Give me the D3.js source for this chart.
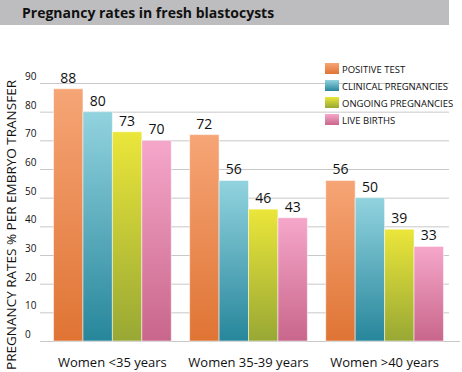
<!DOCTYPE html>
<head>
<meta charset="utf-8">
<script src="https://d3js.org/d3.v7.min.js"></script>
<style>
  html, body { margin: 0; padding: 0; background: #fff; }
  svg { display: block; }
  text { font-family: "Open Sans", sans-serif; fill: #111; }
</style>
</head>
<body>
<svg width="462" height="372"></svg>
<script>
var groups = ["Women <35 years", "Women 35-39 years", "Women >40 years"];
var seriesNames = ["POSITIVE TEST", "CLINICAL PREGNANCIES", "ONGOING PREGNANCIES", "LIVE BIRTHS"];
var positiveTest = [88, 72, 56];
var clinical = [80, 56, 50];
var ongoing = [73, 46, 39];
var liveBirths = [70, 43, 33];
var yTicks = [0, 10, 20, 30, 40, 50, 60, 70, 80, 90];

var values = [positiveTest, clinical, ongoing, liveBirths];
var colors = [
  ["#f6a576", "#df7434"],
  ["#92d3df", "#27869b"],
  ["#ebe63a", "#98a834"],
  ["#f5a7ca", "#c9668b"]
];

var svg = d3.select("svg");
var defs = svg.append("defs");
colors.forEach(function(c, i) {
  var gr = defs.append("linearGradient").attr("id", "g" + i)
    .attr("x1", 0).attr("y1", 0).attr("x2", 0).attr("y2", 1);
  gr.append("stop").attr("offset", "0%").attr("stop-color", c[0]);
  gr.append("stop").attr("offset", "100%").attr("stop-color", c[1]);
});

// title bar
svg.append("rect").attr("x", 0).attr("y", 0).attr("width", 449).attr("height", 25).attr("fill", "#bdbdbf");
svg.append("text").attr("x", 22).attr("y", 18)
  .style("font-weight", "bold").style("font-size", "14px")
  .text("Pregnancy rates in fresh blastocysts");

var y = d3.scaleLinear().domain([0, 90]).range([341, 83]);
var x0 = d3.scaleBand().domain(groups).range([44, 453]).paddingInner(0.135).paddingOuter(0.07);
var x1 = d3.scaleBand().domain(seriesNames).range([0, x0.bandwidth()]);

// grid
svg.append("g").selectAll("line").data(yTicks).enter().append("line")
  .attr("x1", 40).attr("x2", function(d) { return d === 0 ? 460 : 449; })
  .attr("y1", function(d) { return y(d) + 0.5; })
  .attr("y2", function(d) { return y(d) + 0.5; })
  .attr("stroke", "#c8c8c8").attr("stroke-width", 1);

svg.append("g").selectAll("text").data(yTicks).enter().append("text")
  .attr("x", 25).attr("y", function(d) { return y(d) - 3; })
  .style("font-size", "10px")
  .text(function(d) { return d; });

// bars
var g = svg.append("g").selectAll("g").data(groups).enter().append("g")
  .attr("transform", function(d) { return "translate(" + x0(d) + ",0)"; });

seriesNames.forEach(function(s, si) {
  g.append("rect")
    .attr("x", x1(s))
    .attr("y", function(d, gi) { return y(values[si][gi]); })
    .attr("width", x1.bandwidth())
    .attr("height", function(d, gi) { return y(0) - y(values[si][gi]); })
    .attr("fill", "url(#g" + si + ")")
    .attr("stroke", "#fff").attr("stroke-opacity", 0.5).attr("stroke-width", 1);
  g.append("text")
    .attr("x", x1(s) + x1.bandwidth() / 2)
    .attr("y", function(d, gi) { return y(values[si][gi]) - 6; })
    .attr("text-anchor", "middle")
    .style("font-size", "14px")
    .text(function(d, gi) { return values[si][gi]; });
});

// category labels
svg.append("g").selectAll("text").data(groups).enter().append("text")
  .attr("x", function(d) { return x0(d) + x0.bandwidth() / 2; })
  .attr("y", 367)
  .attr("text-anchor", "middle")
  .style("font-size", "13px")
  .text(function(d) { return d; });

// y axis title
svg.append("text")
  .attr("transform", "translate(16,225) rotate(-90)")
  .attr("text-anchor", "middle")
  .style("font-size", "13.5px")
  .text("PREGNANCY RATES % PER EMBRYO TRANSFER");

// legend
var leg = svg.append("g").selectAll("g").data(seriesNames).enter().append("g")
  .attr("transform", function(d, i) { return "translate(325," + (63 + i * 17) + ")"; });
leg.append("rect").attr("width", 14).attr("height", 11)
  .attr("fill", function(d, i) { return "url(#g" + i + ")"; });
leg.append("text").attr("x", 17).attr("y", 10)
  .style("font-size", "9.5px")
  .text(function(d) { return d; });
</script>
</body>
